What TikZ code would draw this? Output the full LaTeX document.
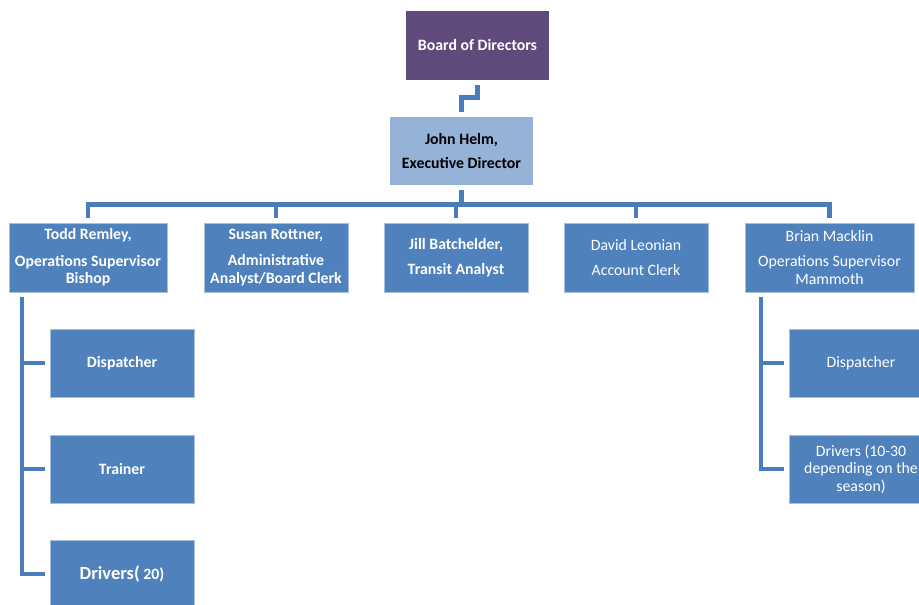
\documentclass[tikz,border=0pt]{standalone}
\usepackage{fontspec}
\setmainfont{Carlito}
\usetikzlibrary{positioning}
\definecolor{boardpurple}{HTML}{604A7B}
\definecolor{helmblue}{HTML}{95B3D7}
\definecolor{staffblue}{HTML}{4F81BD}
\definecolor{staffedge}{HTML}{A7BEDC}
\definecolor{linkblue}{HTML}{4A7EBB}

\begin{document}
\begin{tikzpicture}[x=1pt,y=-1pt]
      \tikzset{staff/.style={fill=staffblue,
          draw=staffedge,
          line width=0.5pt,
          minimum width=144pt,
          minimum height=69pt,
          inner sep=0pt,
          text=white,
          align=center,
          font=\fontsize{15.8}{17.5}\selectfont\bfseries},
        plain/.style={font=\fontsize{15.8}{17.5}\selectfont},
        link/.style={draw=linkblue,
          line width=4.5pt,
          shorten <=5pt,
          shorten >=5pt}
      }
      \clip (0,0) rectangle (919,605);
      \node [staff, fill=boardpurple, draw=none, minimum width=143pt] (board) at (477.5,45.5) {Board of Directors};
      \node [staff, fill=helmblue, draw=none, text=black, minimum width=143pt, minimum height=68pt] (helm) at (461.5,151) {John Helm,\\[7pt]Executive Director};

      \node [staff, minimum width=158pt] (remley) at (88,257.5) {Todd Remley,\\[9pt]Operations Supervisor\\Bishop};
      \node [staff] (rottner) at (276,257.5) {Susan Rottner,\\[9pt]Administrative\\Analyst/Board Clerk};
      \node [staff] (batchelder) at (456,257.5) {Jill Batchelder,\\[8pt]Transit Analyst};
      \node [staff, plain] (leonian) at (636,257.5) {David Leonian\\[8pt]Account Clerk};
      \node [staff, plain, minimum width=169pt] (macklin) at (829.5,257.5) {Brian Macklin\\[8pt]Operations Supervisor\\Mammoth};

      \node [staff, minimum height=68pt] (dispatchA) at (122,363) {Dispatcher};
      \node [staff, minimum height=68pt] (trainerA) at (122,469) {Trainer};
      \node [staff, minimum height=68pt] (driversA) at (122,574) {{\fontsize{18.5}{20}\selectfont Drivers(} 20)};
      \node [staff, plain, minimum height=68pt] (dispatchB) at (861,363) {Dispatcher};
      \node [staff, plain, minimum height=68pt] (driversB) at (861,469) {Drivers (10-30\\depending on the\\season)};

      \draw [link] (board.south) -- ++(0,17) -| (helm.north);
      \foreach \n in {remley,rottner,batchelder,leonian,macklin}
        \draw [link] (helm.south) -- ++(0,19) -| (\n.north);
      \foreach \n in {dispatchA,trainerA,driversA}
        \draw [link] ([xshift=13pt]remley.south west) |- (\n.west);
      \foreach \n in {dispatchB,driversB}
        \draw [link] ([xshift=16pt]macklin.south west) |- (\n.west);
    \end{tikzpicture}
\end{document}
